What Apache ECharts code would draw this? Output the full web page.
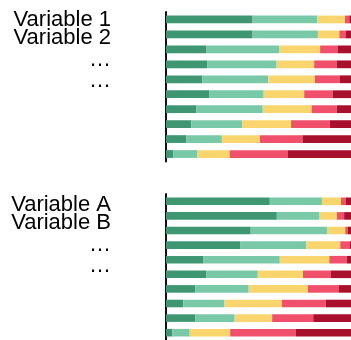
<!DOCTYPE html>
<html>
<head>
<meta charset="utf-8">
<script src="https://cdn.jsdelivr.net/npm/echarts@6/dist/echarts.min.js"></script>
<style>
  html, body { margin: 0; padding: 0; background: #fff; }
  #chart { width: 351px; height: 340px; }
</style>
</head>
<body>
<div id="chart"></div>
<script>
// rows of each block, top to bottom
var rows = ['r1', 'r2', 'r3', 'r4', 'r5', 'r6', 'r7', 'r8', 'r9', 'r10'];

// labels
var topLabels = ['Variable 1', 'Variable 2', '…', '…'];
var bottomLabels = ['Variable A', 'Variable B', '…', '…'];

// segment colours, left to right
var colors = ['#3f9673', '#79c9a9', '#fad56e', '#f0506c', '#a8102d'];

// top block, share (%) of each segment per row
var top1 = [46.8, 46.8, 21.9, 22.4, 19.7, 23.5, 16.5, 13.7, 11.0, 4.0];
var top2 = [34.9, 35.3, 39.2, 37.4, 35.6, 29.3, 35.8, 27.5, 19.2, 13.0];
var top3 = [15.0, 11.6, 22.2, 20.3, 25.1, 21.9, 26.4, 26.4, 20.6, 17.4];
var top4 = [2.4, 3.6, 9.4, 12.1, 13.4, 15.4, 13.6, 21.0, 23.0, 31.3];
var top5 = [0.9, 2.7, 7.3, 7.8, 6.2, 9.9, 7.7, 11.4, 26.2, 34.3];

// bottom block
var bot1 = [56.1, 59.9, 45.8, 40.3, 20.3, 21.9, 15.9, 9.4, 15.9, 3.4];
var bot2 = [28.2, 22.8, 41.2, 35.6, 41.2, 27.7, 28.8, 22.2, 21.2, 9.4];
var bot3 = [10.3, 9.6, 9.9, 18.3, 26.8, 24.4, 32.0, 31.1, 20.3, 21.9];
var bot4 = [2.5, 4.0, 1.3, 5.2, 9.4, 15.2, 16.8, 23.7, 22.2, 35.4];
var bot5 = [2.9, 3.7, 1.8, 0.6, 2.3, 10.8, 6.5, 13.6, 20.4, 29.9];

var topData = [top1, top2, top3, top4, top5];
var botData = [bot1, bot2, bot3, bot4, bot5];

var chart = echarts.init(document.getElementById('chart'));

function makeSeries(data, idx) {
  return data.map(function (vals, i) {
    return {
      type: 'bar',
      stack: 'block' + idx,
      xAxisIndex: idx,
      yAxisIndex: idx,
      data: vals,
      barWidth: '52%',
      itemStyle: { color: colors[i] },
      silent: true
    };
  });
}

function makeLabels(labels, offset) {
  var ys = [20, 38, 59.5, 80.5];
  return labels.map(function (t, i) {
    return {
      type: 'text',
      right: 351 - 111,
      x: 111,
      y: ys[i] + offset,
      style: {
        text: t,
        fontFamily: 'Liberation Sans, Arial, sans-serif',
        fontSize: 22,
        fill: '#000',
        textAlign: 'right',
        textVerticalAlign: 'middle'
      }
    };
  });
}

var yAxisBase = {
  type: 'category',
  data: rows,
  inverse: true,
  axisLine: { show: true, lineStyle: { color: '#111', width: 2 } },
  axisTick: { show: false },
  axisLabel: { show: false },
  splitLine: { show: false }
};

var xAxisBase = {
  type: 'value',
  min: 0,
  max: 100,
  show: false
};

var option = {
  animation: false,
  grid: [
    { left: 166, right: 0, top: 12, height: 149.5 },
    { left: 166, right: 0, top: 194, height: 149.5 }
  ],
  xAxis: [
    Object.assign({ gridIndex: 0 }, xAxisBase),
    Object.assign({ gridIndex: 1 }, xAxisBase)
  ],
  yAxis: [
    Object.assign({ gridIndex: 0 }, yAxisBase),
    Object.assign({ gridIndex: 1 }, yAxisBase)
  ],
  series: makeSeries(topData, 0).concat(makeSeries(botData, 1)),
  graphic: makeLabels(topLabels, 0).concat(makeLabels(bottomLabels, 185))
};

chart.setOption(option);
</script>
</body>
</html>
